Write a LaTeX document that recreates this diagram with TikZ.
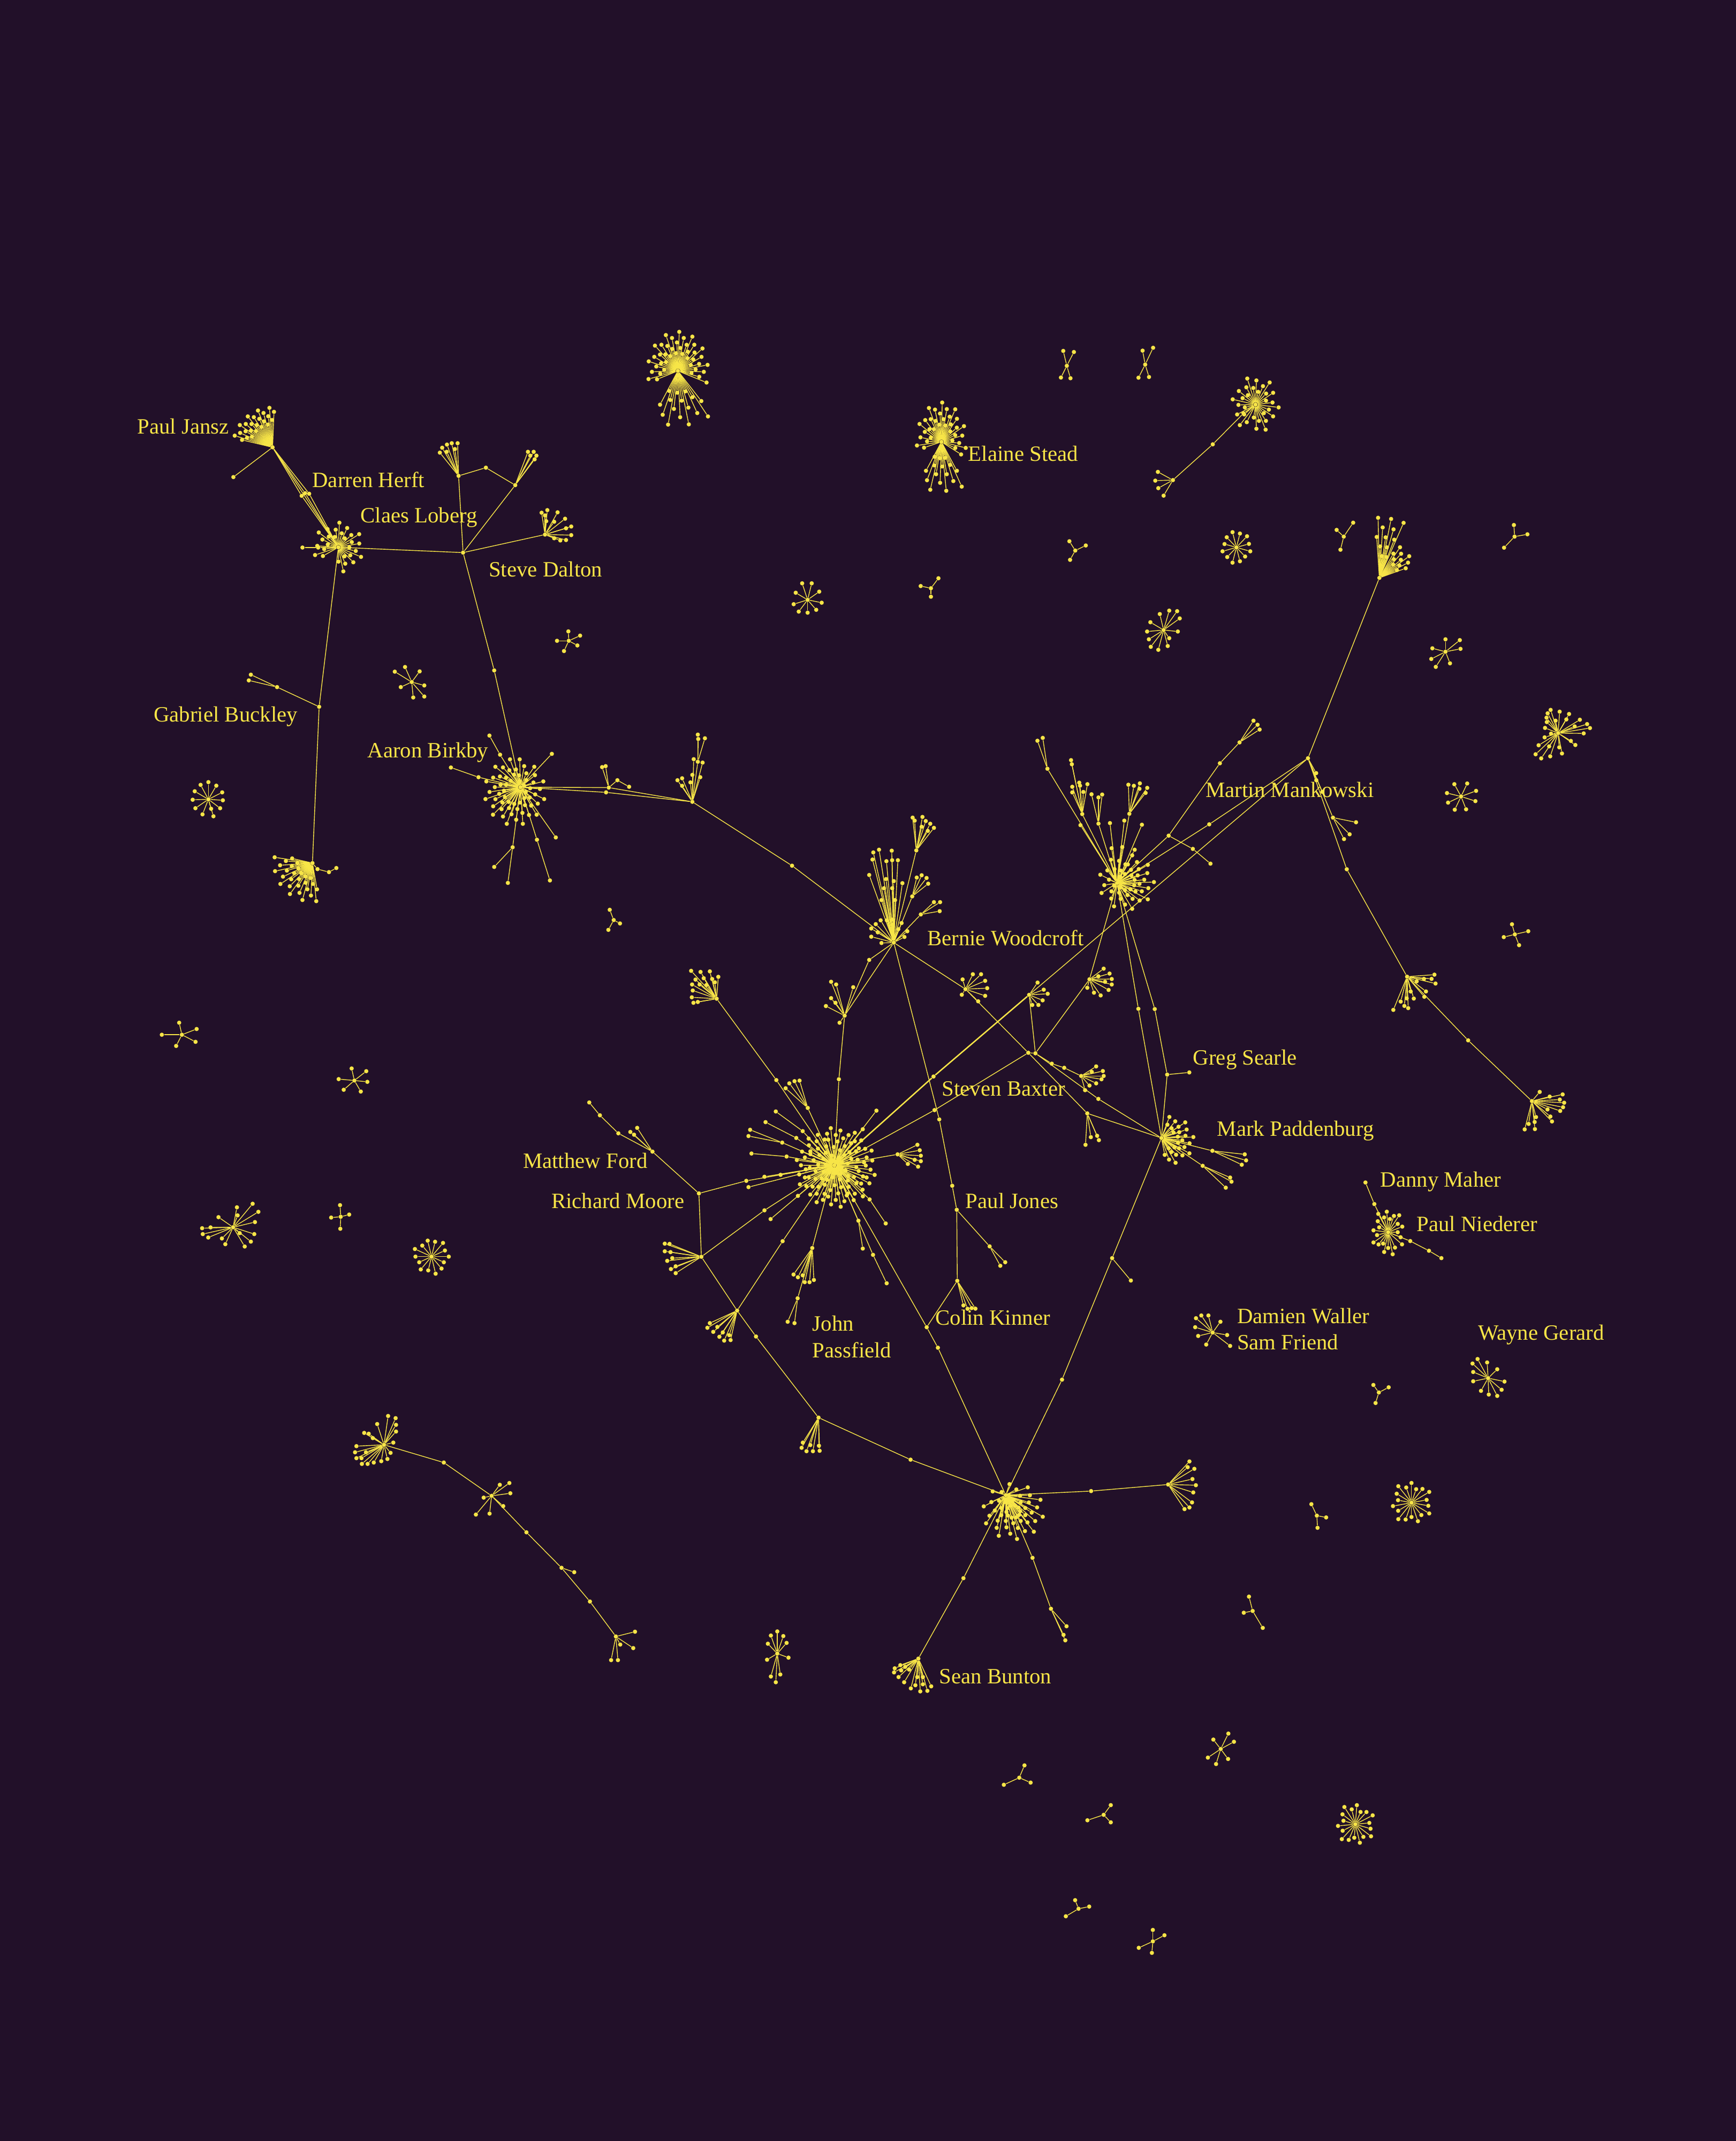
\documentclass[tikz,border=0pt]{standalone}
\usepackage{fontspec}
\setmainfont{Liberation Serif}
\usetikzlibrary{calc}
\definecolor{bg}{HTML}{221029}
\definecolor{fg}{HTML}{F7E547}
\tikzset{
  yd/.style={circle,fill=fg,draw=none,inner sep=0pt,minimum size=3.1pt},
  yl/.style={draw=fg,line width=0.55pt},
  yth/.style={draw=fg,line width=1pt},
  lbl/.style={text=fg,anchor=base west,inner sep=0pt,font=\fontsize{16}{19}\selectfont},
}
% fan: name, hub, centre, N, a0, a1, r1, r2, y-ratio
\newcommand\fanc[9]{%
  \foreach \i in {1,...,#4}{%
    \pgfmathsetmacro\myang{#5+(#6-(#5))/#4*(\i-0.5)}%
    \pgfmathsetmacro\myrad{#7+(#8-(#7))*mod(\i*7,5)/4}%
    \pgfmathsetmacro\mydx{\myrad*cos(\myang)}%
    \pgfmathsetmacro\mydy{\myrad*#9*sin(\myang)}%
    \node[yd] (#1-\i) at ($(#3)+(\mydx,\mydy)$) {};%
    \draw[yl] (#2) -- (#1-\i);%
  }%
}
% explicit spokes: hub, prefix, list x/y
\newcommand\starl[3]{%
  \foreach \x/\y [count=\k] in {#3}{%
    \node[yd] (#2-\k) at (\x,\y) {};%
    \draw[yl] (#1) -- (#2-\k);%
  }%
}
% one spoke: from, name, x, y
\newcommand\spk[4]{\node[yd] (#2) at (#3,#4) {}; \draw[yl] (#1) -- (#2);}
\begin{document}
\begin{tikzpicture}[x=1pt,y=-1pt]
\fill[bg] (0,0) rectangle (1271.2,1568);
\useasboundingbox (0,0) rectangle (1271.2,1568);

% ===== top-left component =====
\node[yd] (pj) at (199.6,327.6) {};
\fanc{pjf}{pj}{pj}{24}{-168}{-86}{17}{29}{1}
\spk{pj}{pj1}{170.9}{349.4}
\node[yd] (dh1) at (220.9,363.1) {};
\node[yd] (dh2) at (223.4,361.2) {};
\node[yd] (dh3) at (226.4,361.6) {};
\node[yd] (cl) at (247.8,400.8) {};
\foreach \k in {1,2,3} {\draw[yl] (pj) -- (dh\k) -- (cl);}
\draw[yl] (pj) -- (cl);
\fanc{clf}{cl}{cl}{28}{-215}{95}{8}{18}{1}
\spk{cl}{cl1}{233}{401}
\spk{cl1}{cl2}{221.5}{401}
\node[yd] (sd) at (339.1,404.7) {};
\draw[yl] (cl) -- (sd);
\spk{sd}{sd1}{335.8}{348.5}
\starl{sd1}{sd1f}{322.1/331.5,323.8/327.9,327.3/325.6,330.8/324.6,335.1/324.6,333.1/328.9,327.1/330.9}
\spk{sd1}{sd1a}{355.8}{342.5}
\spk{sd1a}{sd2}{377.3}{355.3}
\draw[yl] (sd2) -- (sd);
\starl{sd2}{sd2f}{386.6/330.9,390.8/330.9,392.8/333.7,391.5/336.4,388.3/333.7}
\spk{sd}{sd3}{399.1}{391.5}
\starl{sd3}{sd3f}{396.6/375.5,400.8/373.6,408.3/375.2,413.8/379.9,418.3/385.6,414.5/386.9,418.3/391.9,414.5/395.5,410.3/395.8,405.8/394.2,400/381.7,405.8/382.1,399.1/377.5}
\spk{cl}{gb}{233.7}{517.6}
\spk{gb}{gb1}{202.9}{503.2}
\spk{gb1}{gb2}{183.7}{494.1}
\spk{gb1}{gb3}{182.2}{498.3}
\spk{gb}{bl}{228.8}{632.1}
\fanc{blf}{bl}{bl}{28}{78}{195}{11}{28}{1}
\spk{bl}{bl1}{232.5}{636.5}
\spk{bl1}{bl2}{240.9}{638.7}
\spk{bl2}{bl3}{246.3}{635.7}
% Aaron Birkby
\spk{sd}{sd4}{361.9}{491}
\spk{sd4}{ab}{381.1}{576.5}
\coordinate (abm) at (377,580);
\fanc{abf}{ab}{abm}{58}{-90}{270}{8}{22}{1.1}
\spk{ab}{abu1}{366.2}{552.7}
\spk{abu1}{abu2}{358.4}{538.7}
\spk{ab}{abr1}{404.1}{552.1}
\spk{ab}{abl1}{350.4}{569.2}
\spk{abl1}{abl2}{330.2}{562.1}
\spk{ab}{abd1}{375.4}{620.5}
\spk{abd1}{abd2}{371.9}{646.6}
\spk{abd1}{abd3}{361.9}{634.9}
\spk{ab}{abd4}{393.2}{615}
\spk{abd4}{abd5}{402.7}{644.8}
\spk{ab}{abd6}{407}{613.3}
\spk{ab}{ar1}{445.8}{576.8}
\spk{ab}{ar3}{443.8}{580.3}
\spk{ar1}{ar1a}{440.9}{561.8}
\spk{ar1}{ar1b}{443.5}{561.1}
\spk{ar1}{ar1c}{452.1}{571.4}
\spk{ar1c}{ar1d}{460.7}{576.2}
\spk{ar1}{ar2}{507}{587.2}
\draw[yl] (ar3) -- (ar2);
\spk{ar2}{ar2t}{511}{557.9}
\starl{ar2t}{ar2tf}{511/538,511.3/541.2,516.2/540.7}
\starl{ar2}{ar2f}{512.8/569.2,507/567.5,499.5/570,496.1/571.4,505.6/573,499.5/575.5,514.5/558.5,508/556}
\spk{ar2}{ar2m}{580}{634}
\node[yd] (bw) at (654.5,690.3) {};
\draw[yl] (ar2m) -- (bw);

% small stars left / top
\node[yd] (sa) at (152.6,585.4) {};
\starl{sa}{saf}{152.6/572.8,146.9/574.8,158.4/575.4,142.6/579.5,162.7/580.3,141.1/585.7,163.2/586.1,143.1/591.9,161.2/591.9,148.3/596.4,156.3/597.8,154.6/592.3}
\node[yd] (sb) at (301.5,499.5) {};
\starl{sb}{sbf}{296.6/488.5,307.3/491.7,289.1/491.9,310.7/502,293.5/503.2,302.6/510.8,310.7/510.1}
\node[yd] (sc) at (416.5,469.3) {};
\starl{sc}{scf}{416.2/462.4,424.8/465.5,407.9/469.3,422.8/472.7,413/476.8}
\node[yd] (tq) at (449.4,673.8) {};
\starl{tq}{tqf}{446.5/666.3,454/676.3,445.5/681}

% top centre
\node[yd] (t1) at (496.4,271.6) {};
\fanc{t1a}{t1}{t1}{42}{-200}{20}{10}{22}{1.3}
\fanc{t1b}{t1}{t1}{16}{50}{120}{16}{40}{1}
\node[yd] (es) at (689.4,323.6) {};
\fanc{esa}{es}{es}{34}{-195}{25}{8}{18}{1.6}
\fanc{esb}{es}{es}{16}{60}{120}{12}{36}{1}
\node[yd] (x1) at (781.2,267.9) {};
\starl{x1}{x1f}{778.6/257,786.4/257.8,776.9/276.5,783.9/277}
\node[yd] (x2) at (838.6,267) {};
\starl{x2}{x2f}{836.7/256.8,844.4/254.7,833.7/276.6,841.4/276.1}
\node[yd] (tr1) at (787.4,403.2) {};
\starl{tr1}{tr1f}{783.1/396.4,795.1/399.5,783.6/410}
\node[yd] (sdd) at (591.4,439.3) {};
\starl{sdd}{sddf}{587.4/427.2,594.4/427.2,599.9/433.3,582.7/434.1,601.7/441.4,581.2/442.5,597.7/446.6,584.9/447.9,591.4/448.7}
\node[yd] (tr2) at (681.7,430.8) {};
\starl{tr2}{tr2f}{674.2/429.2,687.2/423.5,681.7/437}

% top right
\node[yd] (c3) at (919.4,296.3) {};
\fanc{c3f}{c3}{c3}{30}{-245}{105}{8}{17}{1.2}
\spk{c3}{c3a}{910.6}{302.7}
\spk{c3a}{c3b}{888.1}{325.4}
\spk{c3b}{c3c}{858.9}{351.6}
\starl{c3c}{c3cf}{847.9/345.6,846/352,848.2/357.5,852.1/363}
\node[yd] (tr4) at (984,393) {};
\starl{tr4}{tr4f}{978.8/388.1,990.9/382.8,981.6/402.6}
\node[yd] (se) at (905.4,400.9) {};
\fanc{sef}{se}{se}{12}{-90}{270}{9}{11}{1.05}
\node[yd] (f1) at (1010.1,423.2) {};
\fanc{f1a}{f1}{f1}{12}{-95}{-65}{16}{44}{1}
\fanc{f1b}{f1}{f1}{11}{-62}{-18}{14}{27}{1}
\node[yd] (tr5) at (1109.1,393) {};
\starl{tr5}{tr5f}{1108.6/384.5,1118.5/391.3,1101.4/401.1}
\node[yd] (sf) at (852.1,461.4) {};
\starl{sf}{sff}{849.3/449.7,856.2/447.2,862/447.6,863.9/452.9,842.4/455.7,840/462.5,862.5/462.5,841.3/468.2,856.2/467.4,842.7/473.7,848.2/475.9,855.1/473.1}
\node[yd] (sg) at (1058.5,477.3) {};
\starl{sg}{sgf}{1058.5/468.2,1069/468.8,1069.5/475.2,1048.9/474.8,1048.1/482.6,1051.4/488.4,1061.8/485.8}
\node[yd] (c6) at (1141,536.9) {};
\starl{c6}{c6f}{1135.5/519.9,1142.1/521.2,1149/522.9,1133.3/522.4,1132.5/525.6,1139.1/527.8,1147/526.9,1156.9/527.1,1162.2/530.3,1164.3/533.2,1153.1/532,1159.7/537.1,1131.4/533.1,1135.8/537.3,1131.1/540,1126.7/545.8,1134.4/546.6,1141.8/547.3,1150.3/542.6,1153.6/545.6,1124.5/552.4,1128.6/555.4,1135.2/553.9,1143.8/551.8,1132.7/528.8}
\node[yd] (shs) at (1069.9,583.3) {};
\starl{shs}{shsf}{1065/574.3,1074.4/573.8,1080.9/579.2,1059.6/580.8,1080.4/586.7,1060.4/587.8,1065.3/593,1073.6/592.7}
\node[yd] (si) at (1109.3,684.3) {};
\starl{si}{sif}{1107.2/676.9,1119.1/682,1101.2/686.3,1112.4/692.2}

% Martin Mankowski
\node[yd] (mm) at (957.8,555.3) {};
\draw[yl] (f1) -- (mm);
\starl{mm}{mmf}{963.8/566.2,963.9/571.4,968.3/579.9}
\spk{mm}{mm1}{976.1}{598.8}
\starl{mm1}{mm1f}{993/602.2,988.3/611,984.2/614.5}
\spk{mm}{mm2}{986.2}{636.6}
\spk{mm2}{c7}{1030.4}{715.3}
\starl{c7}{c7f}{1050.4/713.8,1051.2/720.3,1048.3/716.9,1042.7/716.9,1037.4/718.7,1044.2/726.1,1043/730,1020.3/739.6,1025.7/733.5,1028.4/736.7,1031.2/738.3,1033/726.1,1035.3/731.3,1030.1/731.1}
\spk{c7}{c7a}{1075.1}{761.9}
\spk{c7a}{c8}{1121.8}{806.4}
\starl{c8}{c8f}{1144.3/801.5,1145.4/807.6,1142.2/805.3,1134.8/803.1,1127.5/799.7,1144.6/810.9,1142.5/813.6,1136.5/821.3,1135.3/817.7,1133.2/812.5,1116.5/827.1,1119.4/823.1,1123.8/821.7,1124/826.9,1124.8/818.1}

% Mankowski hub
\node[yd] (mk) at (818,646.7) {};
\coordinate (mkm) at (825,646);
\fanc{mkf}{mk}{mkm}{46}{-90}{270}{6}{20}{1}
\spk{mk}{mka}{885.5}{603.7}
\draw[yl] (mka) -- (mm);
\spk{mk}{mkb}{855.8}{612}
\spk{mkb}{mkc}{893.3}{559}
\spk{mkc}{mkd}{907.7}{543.7}
\starl{mkd}{mkdf}{917.9/527.8,920.9/530.8,922.4/534.3}
\spk{mkb}{mke}{873.5}{621.7}
\spk{mke}{mkg}{886.4}{632.5}
\spk{mk}{mkh}{767}{563}
\starl{mkh}{mkhf}{759.7/542.5,763.6/540.4}
\spk{mk}{mki}{792.5}{596.2}
\starl{mki}{mkif}{784.3/556.7,784.9/559.7,790.3/573.2,790.9/575.4,785.2/576.2,785.2/580.3,796.3/574.3,793.3/580}
\spk{mk}{mkj}{804.4}{603.2}
\starl{mkj}{mkjf}{799.3/581.7,804.4/584,807.1/581.9}
\spk{mk}{mkk}{827}{596}
\starl{mkk}{mkkf}{826.3/574.7,830.3/575.5,834.7/573.7,834.4/577.7,840.1/577,838.9/580.7}
\starl{mk}{mkl}{791.2/604.3,812.8/602.8,823.3/601,836.2/604,814/621.2,821.8/620.4,830.9/622.3}
\spk{mk}{c9}{797.8}{717.2}
\starl{c9}{c9f}{808.2/709.4,812.5/713,814.1/717,814.1/721,811.8/725,806/729,801.1/727,796.2/723.4,804.3/715,809.2/719}
\spk{mk}{mkm1}{833.6}{738.8}
\spk{mk}{mkm2}{845.6}{739}
\spk{mkm2}{gs}{854.7}{787}
\spk{gs}{gs1}{870.9}{785.4}
\node[yd] (mp) at (850.5,833.4) {};
\draw[yl] (mkm1) -- (mp);
\draw[yl] (gs) -- (mp);

% Bernie Woodcroft
\starl{bw}{bwf}{639.5/624.3,643.7/622.3,653/623,638.9/629.5,649.1/630.7,653.3/630,657.5/630,636.5/640.8,648.8/643.8,654.5/645.3,660.8/646.8,647.3/650.5,653.3/650.5,645.5/659.2,655.4/659.2,660.2/676,641.3/676.8,644.9/674,649.4/674,653.3/673.5,657.8/680.5,638/680,642.8/682.8,638/686,662.3/686.2,645.5/690.6,664.4/682}
\spk{bw}{bs1}{671}{622.8}
\starl{bs1}{bs1f}{668.3/598.8,669.8/601,675.5/598.3,677.9/601.3,681.2/603.3,683.9/606.3,674.9/605.5,679.4/608.5}
\spk{bw}{bs2}{668}{656.5}
\starl{bs2}{bs2f}{671.3/642.7,674.9/641,678.5/643,679.7/647.2}
\spk{bw}{bs3}{674.3}{669.7}
\starl{bs3}{bs3f}{683.9/660.7,688.4/660.7,688.1/667.3}
\spk{bw}{bw1}{636.5}{703}
\node[yd] (p1) at (618.5,743.8) {};
\draw[yl] (bw1) -- (p1);
\draw[yl] (bw) -- (p1);
\starl{p1}{p1f}{608.6/719,612.3/721,608.6/731,611.8/734.4,604.8/736.8,624.8/723,614.8/749}
\spk{bw}{c11}{707}{724.4}
\starl{c11}{c11f}{704.9/717.3,712.4/713.5,718.4/713.5,721.4/718.3,722.9/723.7,721.4/729.3,716.3/733.3,704.3/728.5}
\node[yd] (sb1) at (753,771) {};
\node[yd] (sb2) at (758.2,771.4) {};
\draw[yl] (c11) -- (sb1);
\draw[yl] (sb1) -- (sb2);
\draw[yl] (c9) -- (sb2);
\spk{bw}{bw2}{687.8}{819.8}
\spk{bw2}{bw3}{697.3}{868.4}
\spk{bw3}{pjn}{700.6}{886}

% John Passfield
\node[yd] (pf) at (611,853.4) {};
\coordinate (pfm) at (612,855);
\fanc{pfa}{pf}{pfm}{50}{0}{360}{22}{29}{1}
\fanc{pfb}{pf}{pfm}{38}{4}{364}{13}{21}{1}
\fanc{pfc}{pf}{pfm}{20}{8}{368}{4}{11}{1}
\node[yd] (pfd1) at (683.6,788.4) {};
\draw[yth] (pf) -- (pfd1);
\node[yd] (c10) at (753.6,728.6) {};
\draw[yth] (pfd1) -- (c10);
\draw[yl] (c10) -- (mm);
\starl{c10}{c10f}{759.8/719.6,764.3/724.8,767.2/727.8,763.5/732.6,760.4/736,755.9/736}
\draw[yl] (c10) -- (sb2);
\spk{pf}{pfd2}{684.3}{813}
\draw[yl] (pfd2) -- (sb1);
\spk{sb2}{sba}{770.2}{779}
\spk{sba}{sbb}{779.3}{782}
\spk{sbb}{c12}{791.7}{788}
\starl{c12}{c12f}{802.7/781,807.6/784.4,808.2/788,806.6/790.4,802.7/793.4,797.8/795,794.6/798.4,799.5/785}
\spk{sb2}{sbc}{804.3}{804.8}
\draw[yl] (sbc) -- (mp);
\spk{sb1}{c13}{796.2}{815.4}
\draw[yl] (c13) -- (mp);
\starl{c13}{c13f}{794.9/838.4,798.8/832.8,803.4/831.8,804.7/835}

% Mark Paddenburg
\coordinate (mpm) at (857,835);
\fanc{mpf}{mp}{mpm}{26}{-105}{115}{6}{17}{1}
\spk{mp}{mpa}{887.8}{842.8}
\starl{mpa}{mpaf}{911.5/845.4,912.5/849.8,909.3/853}
\spk{mp}{mpb}{880.7}{853.8}
\starl{mpb}{mpbf}{900.8/862.4,901.8/865.4,897.6/869.8}
\spk{mp}{mpc}{814.4}{921.4}
\spk{mpc}{mpc1}{828.1}{937.8}
\spk{mpc}{mpd}{777.7}{1010.4}
\node[yd] (sn) at (736.5,1095) {};
\draw[yl] (mpd) -- (sn);

% Passfield chains
\spk{pf}{c14a}{568.5}{791}
\spk{c14a}{c14}{524.8}{731.4}
\starl{c14}{c14f}{506.1/711,513/711.8,519.8/711.4,526/715.4,509.3/717.4,515.3/716.4,521.5/717,506.8/721,512.3/721,523.5/719.4,507.3/725.4,517.3/721.4,506.6/730.4,507.8/734.4,511/733.8}
\spk{pf}{c15}{591.5}{811.4}
\starl{c15}{c15f}{575.3/797,578/793.4,581.8/791.8,585.5/791.4}
\spk{pf}{pfu}{614.3}{790.4}
\draw[yl] (pfu) -- (p1);
\spk{pf}{pl1}{587.8}{828.4}
\spk{pl1}{pl2}{568.1}{814}
\spk{pf}{pl3}{583.1}{833.4}
\spk{pl3}{pl4}{560.6}{821.8}
\spk{pf}{pl5}{572.8}{836.8}
\spk{pl5}{pl6}{549.3}{827.4}
\spk{pl5}{pl7}{548.1}{832}
\spk{pf}{pl8}{576}{847}
\spk{pl8}{pl9}{550.3}{844.8}
\spk{pf}{pl10}{571.6}{860.4}
\spk{pf}{pl11}{559.8}{861.8}
\spk{pf}{pl12}{548.1}{869.4}
\spk{pf}{rm1}{546.5}{864.8}
\node[yd] (rm) at (511.8,874) {};
\draw[yl] (rm1) -- (rm);
\spk{pf}{pl13}{559.8}{886.4}
\spk{pf}{pl14}{564.3}{892.8}
\node[yd] (rmf) at (513.6,920.4) {};
\draw[yl] (pl13) -- (rmf);
\draw[yl] (rm) -- (rmf);
\starl{rmf}{rmff}{486.8/910.8,490.3/911,486.8/916.4,491/917,492.3/921.4,488.6/923.4,494.8/927.4,491.3/929.4,494.8/932.4}
\spk{pf}{pl15}{584.3}{875.8}
\spk{pf}{pl16}{573.1}{909}
\node[yd] (c16) at (539.8,959.8) {};
\draw[yl] (pl16) -- (c16);
\draw[yl] (rmf) -- (c16);
\starl{c16}{c16f}{519.8/969,518/972.4,522.3/975.4,525.3/971.8,529.3/975.8,526.8/979,534/977.8,530.3/981.8,535/981.4}
\spk{c16}{c16a}{553.6}{978.8}
\spk{c16a}{c19}{599.4}{1038.2}
\starl{c19}{c19f}{587.9/1056.5,587/1060.3,590.6/1062.8,593.4/1058.3,595.3/1062.8,599.7/1058.8,600.2/1062.5}
\spk{c19}{c19a}{666.8}{1069}
\draw[yl] (c19a) -- (sn);
\spk{pf}{c17}{594.8}{914}
\starl{c17}{c17f}{581.1/933.4,584.3/935.4,587.8/934,589.3/939,592.8/939,596/937.4}
\spk{c17}{c17a}{584.1}{950.8}
\starl{c17a}{c17af}{576.8/968,581.8/969}
\spk{pf}{pr1}{628.6}{894}
\spk{pr1}{pr2}{631.8}{914.4}
\spk{pf}{pr3}{639.3}{919}
\spk{pr3}{pr4}{649.3}{939.8}
\spk{pf}{pr5}{636.8}{878.4}
\spk{pr5}{pr6}{648.6}{896}
\spk{pf}{ckj}{678.6}{972}
\spk{ckj}{ckj1}{686.8}{987}
\draw[yl] (ckj1) -- (sn);
\spk{pf}{pr7}{641.8}{813.4}
\spk{pf}{pr8}{631.8}{827}
\spk{pf}{c18}{657.3}{845.4}
\starl{c18}{c18f}{671.8/838.4,673.5/842.4,674.3/846.4,674.3/850.4,672.3/854.4,669.8/849.4,664.8/852.4}
% Matthew Ford
\spk{rm}{mf}{477.8}{843.4}
\spk{mf}{mf1}{452.8}{830}
\spk{mf1}{mf2}{439.3}{816.8}
\spk{mf2}{mf3}{431.5}{807.4}
\starl{mf}{mff}{461.6/829,466.6/826,464.3/831}
% Paul Jones / Colin Kinner
\spk{pjn}{pjn1}{724.7}{912.8}
\starl{pjn1}{pjn1f}{732.5/927,736.1/924.4}
\spk{pjn}{ck}{701}{938}
\starl{ck}{ckf}{705.5/956,708.5/958.5,711.5/958,714.3/958.4}
\draw[yl] (ck) -- (ckj);

% Sean hub
\coordinate (snm) at (742,1107);
\fanc{snf}{sn}{snm}{50}{0}{360}{5}{22}{0.92}
\spk{sn}{sna}{799}{1092}
\spk{sna}{c20}{855.4}{1087.2}
\starl{c20}{c20f}{871/1070.3,869.7/1074.5,874.6/1075.7,873.2/1083.2,875.7/1087.7,873.8/1093,872.9/1100.3,871/1104,867.4/1105.2}
\spk{sn}{snb}{756.1}{1140.9}
\spk{snb}{snc}{769.6}{1178.2}
\starl{snc}{sncf}{781/1191,778.8/1197.3,780.1/1201.3}
\spk{sn}{snd}{705.5}{1155.8}
\spk{snd}{sbh}{672.5}{1214.7}
\starl{sbh}{sbhf}{655.2/1221.8,659.3/1219.5,654.7/1224.8,658/1228.2,659.9/1223.3,662.9/1220.7,665.7/1222.7,662.1/1232,667/1236.5,670.3/1234.2,671.7/1228.2,673.9/1238.7,675.8/1233.5,679.1/1238.3,681.9/1235,675.8/1228.2}

% right side
\node[yd] (dm) at (999.9,866) {};
\spk{dm}{dm1}{1006.4}{881.8}
\spk{dm1}{pn}{1016.5}{902.4}
\fanc{pnf}{pn}{pn}{22}{50}{400}{7}{12}{1.4}
\spk{pn}{pn1}{1032.7}{908.9}
\spk{pn1}{pn2}{1046.4}{916}
\spk{pn2}{pn3}{1055.5}{921.4}
\node[yd] (dw) at (888,975.9) {};
\starl{dw}{dwf}{879.7/963.4,884.9/963.4,893.7/968,875.2/972,877.4/978.4,883.3/984.7,898.6/977.7,900.8/985.7,875.8/965.4}
\node[yd] (wg) at (1089.7,1009.3) {};
\starl{wg}{wgf}{1082/995.3,1089/997.8,1096.4/1002.8,1078.3/998.6,1078.8/1004.8,1101.7/1011.8,1078.8/1011.6,1099.6/1017.8,1084.5/1018.6,1090.2/1021.3,1096.4/1022.3}
\node[yd] (tw) at (1009.7,1019.8) {};
\starl{tw}{twf}{1005.7/1014.3,1016.9/1016,1007.3/1027.5}
\node[yd] (st1) at (1033.6,1100.5) {};
\fanc{st1f}{st1}{st1}{18}{0}{360}{10}{15}{1.05}
\node[yd] (tb1) at (964.3,1110) {};
\starl{tb1}{tb1f}{960.3/1101.6,971.1/1111.3,964.8/1118.9}
\node[yd] (tb2) at (917.3,1179.8) {};
\starl{tb2}{tb2f}{914.6/1169.3,910.8/1181.1,924.7/1192.2}
\node[yd] (st2) at (893.9,1280.9) {};
\starl{st2}{st2f}{888.5/1274,899.5/1269.6,903.6/1275.6,899.3/1288.2,890.5/1291.9,884.5/1287.2}
\node[yd] (st3) at (992.5,1336) {};
\fanc{st3f}{st3}{st3}{18}{5}{365}{9}{14}{1.1}
\node[yd] (tb3) at (746.4,1301.9) {};
\starl{tb3}{tb3f}{750.2/1292.9,754.7/1305.5,735.1/1307.1}
\node[yd] (tb4) at (808.2,1329.1) {};
\starl{tb4}{tb4f}{813.4/1322,813.4/1334.6,796.3/1333.1}
\node[yd] (tb5) at (789.8,1397.9) {};
\starl{tb5}{tb5f}{787.3/1391.6,797.6/1396.3,780.5/1403.4}
\node[yd] (tb6) at (844.2,1421.8) {};
\starl{tb6}{tb6f}{844.2/1413.4,852.7/1417.3,843.5/1430.2,833.9/1426.5}
\node[yd] (ssb) at (569.2,1211) {};
\starl{ssb}{ssbf}{569.2/1194.8,564.5/1197.8,573.6/1198.2,562.3/1203.8,576/1203.2,561.7/1215.5,577.4/1214,564.5/1227.8,571.4/1226.3,568.1/1232}

% left lower
\node[yd] (sl1) at (133.2,757.8) {};
\starl{sl1}{sl1f}{131.2/749,144/753.6,143.2/763,129/766,118.5/757.8}
\node[yd] (sl2) at (259.5,791.3) {};
\starl{sl2}{sl2f}{257.5/782.5,268.2/784.5,269/792.3,264.2/799.4,251.7/798.1,248/790.3}
\node[yd] (sl3) at (170.7,898.8) {};
\starl{sl3}{sl3f}{185/881.6,189.2/887.5,173.5/884.2,160/891.4,174/890.1,186.7/895,148/899.5,154.2/898.9,148.5/903.8,152.5/906.3,162.5/907,165/911.2,175.5/903.1,179.2/912.9,183.7/909.3,186.2/903.8}
\node[yd] (sl4) at (249.5,891.1) {};
\starl{sl4}{sl4f}{249/882.6,255.7/889.5,249.2/899.9,242.5/891.7}
\node[yd] (sl5) at (316,920.3) {};
\fanc{sl5f}{sl5}{sl5}{14}{-90}{270}{10}{13.5}{0.95}
\node[yd] (c21) at (281.2,1058.1) {};
\starl{c21}{c21f}{284.2/1037,289.7/1038.6,290/1043.5,290/1048.4,288/1056.5,276.2/1042.9,266.7/1049.4,270/1050,273/1053.2,261/1059.1,260/1063.6,261/1067.9,264.7/1067.9,265/1072.1,269.2/1072.1,273.7/1071.1,279.2/1070.1,283.7/1068.5,286/1064,268/1063.6}
\spk{c21}{c21a}{325}{1071.1}
\spk{c21a}{c22}{360}{1095.5}
\starl{c22}{c22f}{366/1087.4,373/1086.1,373.7/1093.6,368.5/1103,358.5/1108.5,348.5/1109.2,354.2/1096.8}
\spk{c22}{c22a}{385.5}{1122.2}
\spk{c22a}{c22b}{411.2}{1148.2}
\spk{c22b}{c22c}{420.5}{1151.4}
\spk{c22b}{c22d}{432}{1172.9}
\spk{c22d}{c23}{451}{1198.5}
\starl{c23}{c23f}{465/1195,463.7/1207,454.2/1204.4,452.5/1215.8,447.5/1215.8}

% ===== labels =====
\node[lbl] (l1) at (100.3,317.7) {Paul Jansz};
\node[lbl] (l2) at (228.5,357) {Darren Herft};
\node[lbl] (l3) at (263.8,382.8) {Claes Loberg};
\node[lbl] (l4) at (357.8,422.4) {Steve Dalton};
\node[lbl] (l5) at (112.4,528.8) {Gabriel Buckley};
\node[lbl] (l6) at (269,554.8) {Aaron Birkby};
\node[lbl] (l7) at (708.9,337.7) {Elaine Stead};
\node[lbl] (l8) at (882.8,584) {Martin Mankowski};
\node[lbl] (l9) at (678.8,692.5) {Bernie Woodcroft};
\node[lbl] (l10) at (689.6,802.8) {Steven Baxter};
\node[lbl] (l11) at (873.5,779.8) {Greg Searle};
\node[lbl] (l12) at (891.1,832) {Mark Paddenburg};
\node[lbl] (l13) at (382.8,855.4) {Matthew Ford};
\node[lbl] (l14) at (403.6,884.8) {Richard Moore};
\node[lbl] (l15) at (706.9,884.8) {Paul Jones};
\node[lbl] (l16) at (1010.6,869.4) {Danny Maher};
\node[lbl] (l17) at (1037.3,901.8) {Paul Niederer};
\node[lbl] (l18) at (594.8,974.8) {John};
\node[lbl] (l19) at (594.8,994.4) {Passfield};
\node[lbl] (l20) at (684.8,970.4) {Colin Kinner};
\node[lbl] (l21) at (905.7,969.4) {Damien Waller};
\node[lbl] (l22) at (905.7,988.4) {Sam Friend};
\node[lbl] (l23) at (1082.1,981.4) {Wayne Gerard};
\node[lbl] (l24) at (687.6,1233.2) {Sean Bunton};
\end{tikzpicture}
\end{document}
